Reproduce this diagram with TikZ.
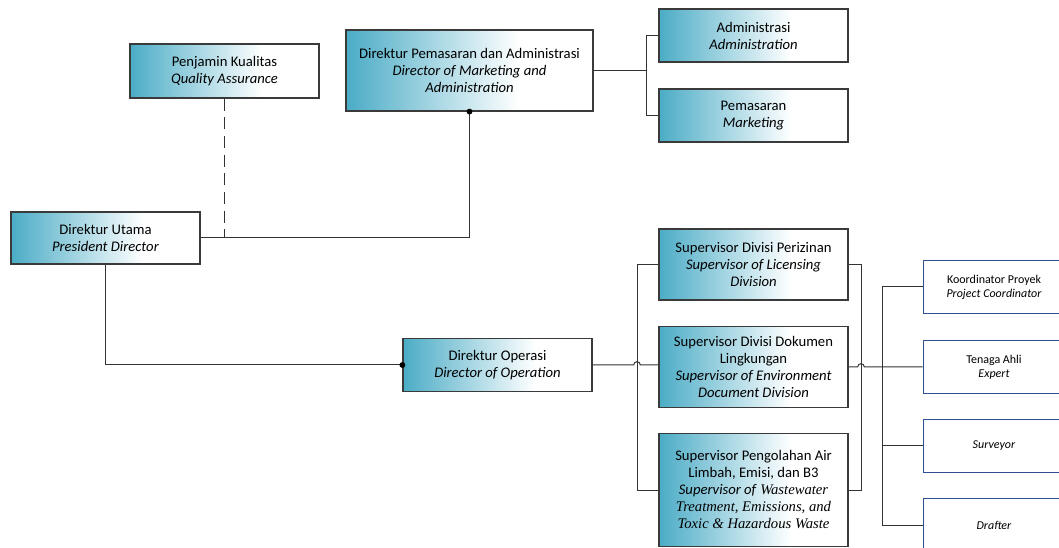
\documentclass[tikz,border=0pt]{standalone}
\usepackage{fontspec}
\setmainfont{Carlito}
\newfontfamily\tmsit{Liberation Serif}[UprightFont={* Italic}]
\usetikzlibrary{calc}
\definecolor{teal1}{HTML}{4BACC6}
\definecolor{bord}{HTML}{3A3A3A}
\definecolor{blu}{HTML}{2F4F94}
\pgfdeclarehorizontalshading{boxshade}{100bp}{color(0bp)=(teal1); color(25bp)=(teal1); color(60bp)=(white); color(100bp)=(white)}
\begin{document}
\begin{tikzpicture}[x=0.75pt,y=-0.75pt,
 box/.style={draw=bord, line width=0.9pt, shade, shading=boxshade, inner sep=0pt, align=center, font=\fontsize{11}{12.75}\selectfont, minimum width=141.75pt},
 wbox/.style={draw=blu, line width=0.75pt, fill=white, inner sep=0pt, align=center, font=\fontsize{9}{10.5}\selectfont, minimum width=106.5pt, minimum height=39.75pt},
 conn/.style={draw=black!80, line width=0.75pt},
 dashconn/.style={conn, dash pattern=on 9pt off 5pt}]
\useasboundingbox (0,0) rectangle (1059,548);
\clip (0,0) rectangle (1059,548);

% nodes
\node[box, minimum height=39pt] (utama) at (105.5,238) {Direktur Utama\\\textit{President Director}};
\node[box, minimum height=40.5pt] (qa) at (224.5,71) {Penjamin Kualitas\\\textit{Quality Assurance}};
\node[box, minimum width=185.25pt, minimum height=60.75pt] (dpa) at (469.5,70.5) {Direktur Pemasaran dan Administrasi\\\textit{Director of Marketing and}\\\textit{Administration}};
\node[box, minimum height=39.75pt] (adm) at (753.5,35.5) {Administrasi\\\textit{Administration}};
\node[box, minimum height=39.75pt] (pms) at (753.5,115.5) {Pemasaran\\\textit{Marketing}};
\node[box, minimum height=39.75pt] (dop) at (497.5,365) {Direktur Operasi\\\textit{Director of Operation}};
\node[box, minimum height=53.25pt] (sp1) at (753.5,264.5) {Supervisor Divisi Perizinan\\\textit{Supervisor of Licensing}\\\textit{Division}};
\node[box, minimum height=60.75pt] (sp2) at (753.5,367) {Supervisor Divisi Dokumen\\Lingkungan\\\textit{Supervisor of Environment}\\\textit{Document Division}};
\node[box, minimum height=84.75pt] (sp3) at (753.5,490) {Supervisor Pengolahan Air\\Limbah, Emisi, dan B3\\\textit{Supervisor of} {\tmsit Wastewater}\\{\tmsit Treatment, Emissions, and}\\{\tmsit Toxic \& Hazardous Waste}};

\node[wbox] (ko) at (994,287) {Koordinator Proyek\\\textit{Project Coordinator}};
\node[wbox] (ta) at (994,367) {Tenaga Ahli\\\textit{Expert}};
\node[wbox] (sv) at (994,445.5) {\textit{Surveyor}};
\node[wbox] (dr) at (994,525) {\textit{Drafter}};

% coordinates
\coordinate (qaend) at (360,238);
\coordinate (b1) at (646,70.5);
\coordinate (bl) at (637,490);
\coordinate (br) at (861,490);
\coordinate (hop1) at (637,365);
\coordinate (hop2) at (861,367);
\coordinate (rb) at (882,525);

% connectors
\draw[conn] (utama.east) -| (dpa.south);
\fill (dpa.south) circle[radius=2.2pt];
\draw[dashconn] (qa.south) |- (qaend);
\draw[conn] (dpa.east) -- (b1);
\draw[conn] (adm.west) -| (b1) |- (pms.west);
\draw[conn] (utama.south) |- (dop.west);
\fill (dop.west) circle[radius=2.2pt];
\draw[conn] (sp1.west) -| (bl) -- (sp3.west);
\draw[conn] (sp1.east) -| (br) -- (sp3.east);
\draw[conn] (dop.east) -- ([xshift=-2.5pt]hop1) arc[start angle=180, end angle=0, radius=2.5pt] -- (sp2.west|-dop.east);
\draw[conn] (sp2.east) -- ([xshift=-2.5pt]hop2) arc[start angle=180, end angle=0, radius=2.5pt] -- (ta.west);
\draw[conn] (ko.west) -| (rb) -- (dr.west);
\draw[conn] (sv.west) -- (sv.west -| rb);
\end{tikzpicture}
\end{document}
